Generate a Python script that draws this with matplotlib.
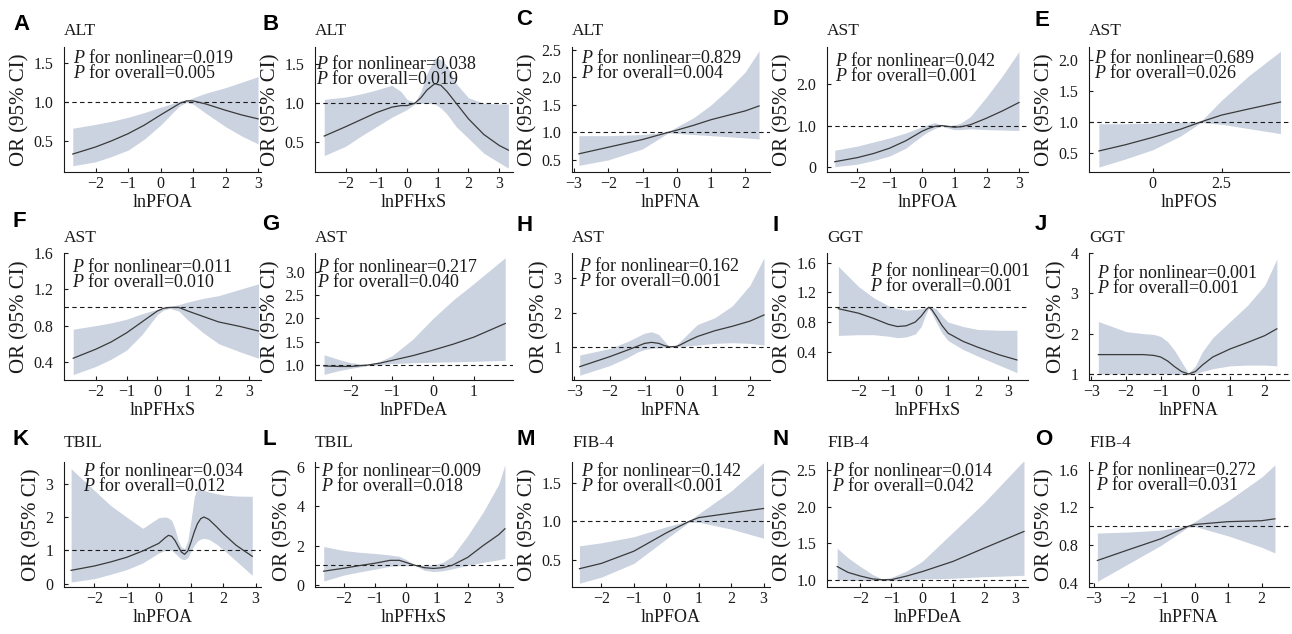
"""
Restricted cubic spline panels: OR (95% CI) of liver markers vs ln PFAS
"""

#%% Import packages
import matplotlib
matplotlib.use('Agg')
import matplotlib.pyplot as plt

#%% Data: x, OR, lower and upper 95% CI per panel
a_x  = [-2.7, -2.0, -1.5, -1.0, -0.5, 0.0, 0.4, 0.6, 0.8, 1.0, 1.4, 2.0, 2.5, 3.0]
a_or = [0.33, 0.42, 0.50, 0.59, 0.70, 0.83, 0.93, 0.98, 1.01, 1.01, 0.97, 0.89, 0.83, 0.78]
a_lo = [0.18, 0.23, 0.30, 0.38, 0.52, 0.70, 0.87, 0.95, 0.99, 0.97, 0.85, 0.68, 0.56, 0.46]
a_hi = [0.66, 0.71, 0.75, 0.80, 0.86, 0.93, 0.98, 1.01, 1.02, 1.05, 1.11, 1.18, 1.25, 1.32]

b_x  = [-2.7, -2.0, -1.5, -1.0, -0.5, -0.2, 0.0, 0.25, 0.45, 0.65, 0.9, 1.1, 1.3, 1.6, 2.0, 2.5, 3.0, 3.3]
b_or = [0.58, 0.70, 0.79, 0.88, 0.95, 0.97, 0.97, 1.00, 1.07, 1.17, 1.25, 1.23, 1.15, 1.00, 0.80, 0.60, 0.46, 0.40]
b_lo = [0.33, 0.45, 0.58, 0.70, 0.82, 0.88, 0.92, 0.99, 1.00, 1.00, 0.99, 0.94, 0.86, 0.70, 0.55, 0.36, 0.24, 0.17]
b_hi = [1.05, 1.08, 1.12, 1.17, 1.23, 1.15, 1.05, 1.01, 1.15, 1.38, 1.58, 1.56, 1.48, 1.25, 1.07, 1.00, 0.99, 0.99]

c_x  = [-2.86, -2.0, -1.0, -0.25, 0.0, 0.5, 1.0, 1.5, 2.0, 2.4]
c_or = [0.61, 0.73, 0.87, 1.00, 1.04, 1.13, 1.23, 1.31, 1.39, 1.48]
c_lo = [0.40, 0.50, 0.70, 0.99, 0.98, 0.96, 0.94, 0.92, 0.90, 0.88]
c_hi = [0.94, 0.94, 0.96, 1.01, 1.10, 1.27, 1.50, 1.78, 2.10, 2.48]

d_x  = [-2.7, -2.0, -1.5, -1.0, -0.5, 0.0, 0.2, 0.4, 0.6, 0.8, 1.0, 1.2, 1.5, 2.0, 2.5, 3.0]
d_or = [0.12, 0.22, 0.32, 0.45, 0.63, 0.86, 0.93, 0.98, 1.00, 0.98, 0.96, 0.97, 1.02, 1.18, 1.36, 1.56]
d_lo = [0.00, 0.06, 0.15, 0.26, 0.45, 0.75, 0.85, 0.93, 0.99, 0.94, 0.90, 0.90, 0.92, 0.90, 0.89, 0.88]
d_hi = [0.40, 0.50, 0.60, 0.70, 0.82, 0.97, 1.03, 1.07, 1.01, 1.00, 1.01, 1.06, 1.22, 1.70, 2.22, 2.80]

e_x  = [-1.96, -1.0, 0.0, 1.0, 1.75, 2.5, 3.5, 4.64]
e_or = [0.53, 0.63, 0.75, 0.88, 1.00, 1.11, 1.21, 1.32]
e_lo = [0.27, 0.40, 0.55, 0.77, 0.99, 0.96, 0.89, 0.81]
e_hi = [0.97, 0.97, 0.98, 0.99, 1.01, 1.35, 1.75, 2.14]

f_x  = [-2.74, -2.0, -1.5, -1.0, -0.5, 0.0, 0.2, 0.4, 0.7, 1.0, 1.5, 2.0, 2.7, 3.3]
f_or = [0.44, 0.54, 0.62, 0.72, 0.84, 0.96, 0.99, 1.00, 1.00, 0.96, 0.90, 0.84, 0.79, 0.74]
f_lo = [0.26, 0.35, 0.43, 0.53, 0.70, 0.92, 0.97, 0.99, 0.96, 0.86, 0.72, 0.60, 0.51, 0.44]
f_hi = [0.76, 0.80, 0.83, 0.87, 0.93, 0.98, 0.99, 1.01, 1.03, 1.06, 1.10, 1.13, 1.20, 1.26]

g_x  = [-2.66, -2.3, -2.0, -1.6, -1.3, -1.0, -0.5, 0.0, 0.5, 1.0, 1.76]
g_or = [0.98, 0.97, 0.97, 1.00, 1.04, 1.10, 1.20, 1.32, 1.45, 1.60, 1.89]
g_lo = [0.80, 0.88, 0.93, 0.99, 1.01, 1.03, 1.05, 1.06, 1.07, 1.08, 1.10]
g_hi = [1.22, 1.12, 1.05, 1.01, 1.08, 1.20, 1.55, 2.00, 2.40, 2.75, 3.30]

h_x  = [-2.85, -2.0, -1.5, -1.2, -1.0, -0.8, -0.6, -0.45, -0.3, -0.1, 0.0, 0.25, 0.5, 1.0, 1.5, 2.0, 2.4]
h_or = [0.42, 0.71, 0.90, 1.02, 1.10, 1.13, 1.10, 1.04, 1.00, 1.01, 1.05, 1.18, 1.30, 1.47, 1.60, 1.75, 1.93]
h_lo = [0.17, 0.45, 0.68, 0.85, 0.92, 0.95, 0.97, 0.98, 1.00, 1.00, 1.00, 1.03, 1.05, 1.10, 1.12, 1.10, 1.05]
h_hi = [0.76, 0.95, 1.15, 1.30, 1.40, 1.44, 1.36, 1.18, 1.00, 1.05, 1.15, 1.40, 1.65, 1.85, 2.20, 2.80, 3.60]

i_x  = [-2.67, -2.0, -1.5, -1.0, -0.7, -0.4, -0.1, 0.1, 0.25, 0.35, 0.45, 0.6, 0.8, 1.0, 1.5, 2.0, 2.7, 3.3]
i_or = [0.98, 0.92, 0.85, 0.77, 0.74, 0.75, 0.80, 0.88, 0.96, 1.00, 0.97, 0.88, 0.75, 0.65, 0.54, 0.46, 0.36, 0.29]
i_lo = [0.62, 0.63, 0.63, 0.61, 0.59, 0.60, 0.64, 0.74, 0.90, 0.99, 0.92, 0.80, 0.65, 0.55, 0.43, 0.34, 0.22, 0.12]
i_hi = [1.55, 1.28, 1.13, 1.02, 0.98, 0.96, 0.97, 0.98, 1.00, 1.01, 1.00, 0.98, 0.88, 0.80, 0.74, 0.70, 0.69, 0.69]

j_x  = [-2.8, -2.0, -1.5, -1.2, -1.0, -0.8, -0.6, -0.4, -0.2, 0.0, 0.2, 0.5, 1.0, 1.5, 2.0, 2.35]
j_or = [1.48, 1.48, 1.48, 1.46, 1.42, 1.32, 1.18, 1.06, 1.00, 1.06, 1.22, 1.42, 1.62, 1.78, 1.95, 2.12]
j_lo = [1.00, 1.00, 1.00, 1.00, 1.00, 1.00, 0.99, 0.99, 0.98, 1.00, 1.06, 1.13, 1.20, 1.22, 1.22, 1.20]
j_hi = [2.30, 2.05, 2.00, 1.98, 1.93, 1.80, 1.58, 1.30, 1.02, 1.20, 1.55, 1.90, 2.30, 2.70, 3.20, 3.85]

k_x  = [-2.72, -2.0, -1.5, -1.0, -0.5, 0.0, 0.2, 0.3, 0.4, 0.5, 0.6, 0.7, 0.8, 0.9, 1.0, 1.1,
        1.2, 1.3, 1.4, 1.55, 1.8, 2.0, 2.4, 2.9]
k_or = [0.40, 0.53, 0.65, 0.79, 0.98, 1.21, 1.38, 1.45, 1.42, 1.30, 1.12, 0.95, 0.88, 0.98, 1.25, 1.55,
        1.80, 1.95, 2.00, 1.93, 1.70, 1.50, 1.15, 0.82]
k_lo = [0.05, 0.15, 0.28, 0.42, 0.62, 0.92, 1.00, 1.02, 1.00, 0.92, 0.82, 0.74, 0.72, 0.78, 0.98, 1.15,
        1.28, 1.34, 1.36, 1.33, 1.18, 1.02, 0.68, 0.25]
k_hi = [3.45, 2.80, 2.35, 2.00, 1.66, 1.98, 2.00, 1.97, 1.90, 1.65, 1.30, 1.10, 1.05, 1.30, 1.90, 2.60,
        2.90, 2.85, 2.80, 2.75, 2.70, 2.66, 2.63, 2.62]

l_x  = [-2.64, -2.0, -1.5, -1.0, -0.5, -0.2, 0.0, 0.3, 0.6, 0.9, 1.2, 1.5, 2.0, 2.5, 3.0, 3.2]
l_or = [0.70, 0.85, 0.98, 1.10, 1.25, 1.25, 1.15, 1.00, 0.88, 0.84, 0.88, 1.00, 1.40, 2.00, 2.55, 2.85]
l_lo = [0.20, 0.50, 0.66, 0.80, 0.95, 0.98, 0.97, 0.99, 0.75, 0.68, 0.72, 0.82, 1.00, 1.15, 1.28, 1.35]
l_hi = [1.95, 1.75, 1.66, 1.60, 1.52, 1.45, 1.30, 1.01, 1.00, 1.02, 1.15, 1.45, 2.50, 3.70, 5.10, 6.10]

m_x  = [-2.68, -2.0, -1.0, 0.0, 0.7, 1.0, 2.0, 3.0]
m_or = [0.38, 0.45, 0.61, 0.85, 1.00, 1.05, 1.11, 1.17]
m_lo = [0.19, 0.27, 0.45, 0.77, 0.99, 0.99, 0.90, 0.78]
m_hi = [0.68, 0.72, 0.80, 0.93, 1.01, 1.10, 1.40, 1.77]

n_x  = [-2.75, -2.4, -2.0, -1.6, -1.3, -1.0, -0.5, 0.0, 1.0, 2.0, 3.3]
n_or = [1.18, 1.10, 1.05, 1.01, 1.00, 1.00, 1.05, 1.11, 1.25, 1.43, 1.66]
n_lo = [1.00, 0.99, 0.99, 0.99, 0.99, 0.99, 1.00, 1.01, 1.02, 1.04, 1.06]
n_hi = [1.43, 1.30, 1.18, 1.07, 1.01, 1.03, 1.12, 1.25, 1.65, 2.05, 2.63]

o_x  = [-2.9, -2.0, -1.0, -0.2, 0.0, 1.0, 2.0, 2.4]
o_or = [0.64, 0.75, 0.87, 1.00, 1.02, 1.05, 1.06, 1.08]
o_lo = [0.42, 0.60, 0.80, 0.99, 1.00, 0.90, 0.78, 0.72]
o_hi = [0.93, 0.94, 0.96, 1.01, 1.05, 1.27, 1.52, 1.65]

# Panel texts
letters = list('ABCDEFGHIJKLMNO')
outcomes = ['ALT', 'ALT', 'ALT', 'AST', 'AST',
            'AST', 'AST', 'AST', 'GGT', 'GGT',
            'TBIL', 'TBIL', 'FIB-4', 'FIB-4', 'FIB-4']
exposures = ['lnPFOA', 'lnPFHxS', 'lnPFNA', 'lnPFOA', 'lnPFOS',
             'lnPFHxS', 'lnPFDeA', 'lnPFNA', 'lnPFHxS', 'lnPFNA',
             'lnPFOA', 'lnPFHxS', 'lnPFOA', 'lnPFDeA', 'lnPFNA']
p_nonlinear = ['=0.019', '=0.038', '=0.829', '=0.042', '=0.689',
               '=0.011', '=0.217', '=0.162', '=0.001', '=0.001',
               '=0.034', '=0.009', '=0.142', '=0.014', '=0.272']
p_overall = ['=0.005', '=0.019', '=0.004', '=0.001', '=0.026',
             '=0.010', '=0.040', '=0.001', '=0.001', '=0.001',
             '=0.012', '=0.018', '<0.001', '=0.042', '=0.031']

# Axis ticks
xticks = [[-2, -1, 0, 1, 2, 3], [-2, -1, 0, 1, 2, 3], [-3, -2, -1, 0, 1, 2], [-2, -1, 0, 1, 2, 3], [0, 2.5],
          [-2, -1, 0, 1, 2, 3], [-2, -1, 0, 1], [-3, -2, -1, 0, 1, 2], [-2, -1, 0, 1, 2, 3], [-3, -2, -1, 0, 1, 2],
          [-2, -1, 0, 1, 2, 3], [-2, -1, 0, 1, 2, 3], [-2, -1, 0, 1, 2, 3], [-2, -1, 0, 1, 2, 3], [-3, -2, -1, 0, 1, 2]]
xticklabels = [None, None, None, None, ['0', '2.5'],
               None, None, None, None, None,
               None, None, None, None, None]
yticks = [[0.5, 1.0, 1.5], [0.5, 1.0, 1.5], [0.5, 1.0, 1.5, 2.0, 2.5], [0, 1.0, 2.0], [0.5, 1.0, 1.5, 2.0],
          [0.4, 0.8, 1.2, 1.6], [1.0, 1.5, 2.0, 2.5, 3.0], [1, 2, 3], [0.4, 0.8, 1.2, 1.6], [1, 2, 3, 4],
          [0, 1, 2, 3], [0, 2, 4, 6], [0.5, 1.0, 1.5], [1.0, 1.5, 2.0, 2.5], [0.4, 0.8, 1.2, 1.6]]
yticklabels = [['0.5', '1.0', '1.5'], ['0.5', '1.0', '1.5'], ['0.5', '1.0', '1.5', '2.0', '2.5'],
               ['0', '1.0', '2.0'], ['0.5', '1.0', '1.5', '2.0'],
               ['0.4', '0.8', '1.2', '1.6'], ['1.0', '1.5', '2.0', '2.5', '3.0'], ['1', '2', '3'],
               ['0.4', '0.8', '1.2', '1.6'], ['1', '2', '3', '4'],
               ['0', '1', '2', '3'], ['0', '2', '4', '6'], ['0.5', '1.0', '1.5'],
               ['1.0', '1.5', '2.0', '2.5'], ['0.4', '0.8', '1.2', '1.6']]
xlims = [(-2.97, 3.09), (-3.0, 3.45), (-3.06, 2.72), (-2.94, 3.28), (-2.32, 4.95),
         (-3.04, 3.38), (-2.88, 1.95), (-3.07, 2.57), (-3.05, 3.67), (-3.07, 2.70),
         (-2.94, 3.17), (-2.92, 3.46), (-2.91, 3.20), (-3.08, 3.43), (-3.15, 2.82)]
ylims = [(0.10, 1.70), (0.12, 1.72), (0.28, 2.55), (-0.13, 2.91), (0.19, 2.21),
         (0.20, 1.60), (0.68, 3.40), (0.03, 3.74), (0.02, 1.73), (0.85, 4.00),
         (-0.10, 3.65), (-0.10, 6.23), (0.14, 1.78), (0.90, 2.61), (0.36, 1.68)]

#%% Layout (pixels of the 1292 x 634 figure)
W, H = 1292, 634
col_left = [64, 315, 572, 827, 1089]
col_width = [197, 198, 198, 201, 200]
row_top = [47, 253, 462]
row_bottom = [172, 380, 587]
letter_x = [13, 262, 516, 772, 1035]
letter_base = [[30, 30, 25, 25, 26], [227, 230, 231, 231, 230], [445, 445, 445, 445, 445]]
title_base = [35, 242, 447]
note_dx = [9, 1, 9, 8, 5, 8, 2, 7, 43, 8, 19, 6, 9, 5, 7]
note_top = [50, 56, 50, 53, 50, 259, 259, 258, 263, 265, 463, 463, 463, 463, 462]

BAND = '#cbd3e0'
LINE = '#3a3a3a'
INK = '#1a1a1a'

plt.rcParams['font.family'] = 'Liberation Serif'
plt.rcParams['mathtext.fontset'] = 'custom'
plt.rcParams['mathtext.rm'] = 'Liberation Serif'
plt.rcParams['mathtext.it'] = 'Liberation Serif:italic'


def fx(px):
    return px / W


def fy(py):
    return 1 - py / H


def plot_rcs(fig, k, x, orr, lo, hi):
    """ One spline panel, k is the panel index (0..14) """
    row, col = divmod(k, 5)
    left, width = col_left[col], col_width[col]
    top, bottom = row_top[row], row_bottom[row]
    ax = fig.add_axes([fx(left), fy(bottom), width / W, (bottom - top) / H])

    # Confidence band, reference line and OR curve
    ax.fill_between(x, lo, hi, color=BAND, lw=0, zorder=1)
    ax.axhline(1.0, color=INK, lw=0.8, ls=(0, (4, 3)), zorder=2)
    ax.plot(x, orr, color=LINE, lw=0.9, zorder=3)

    # Axes
    ax.set_xlim(*xlims[k]); ax.set_ylim(*ylims[k])
    ax.set_xticks(xticks[k])
    if xticklabels[k] is not None:
        ax.set_xticklabels(xticklabels[k])
    ax.set_yticks(yticks[k]); ax.set_yticklabels(yticklabels[k])
    for side in ['top', 'right']:
        ax.spines[side].set_visible(False)
    for side in ['left', 'bottom']:
        ax.spines[side].set_linewidth(0.8); ax.spines[side].set_color(INK)
    ax.tick_params(direction='in', length=3, width=0.8, colors=INK, labelsize=11.5)
    ax.tick_params(axis='x', pad=3)
    ax.tick_params(axis='y', pad=7.5)
    ax.set_xlabel(exposures[k], fontsize=13, labelpad=1, color=INK)
    ax.set_ylabel('OR (95% CI)', fontsize=15, labelpad=3, color=INK)

    # Letter, outcome and P values (two lines in one text)
    fig.text(fx(letter_x[col]), fy(letter_base[row][col]), letters[k], family='Liberation Sans',
             weight='bold', fontsize=16, va='baseline', color='black')
    fig.text(fx(left), fy(title_base[row]), outcomes[k], fontsize=12.5, va='baseline', color=INK)
    note = '$P$ for nonlinear' + p_nonlinear[k] + '\n' + '$P$ for overall' + p_overall[k]
    fig.text(fx(left + note_dx[k]), fy(note_top[k] - 1), note,
             fontsize=13, va='top', ha='left', linespacing=0.82, color=INK)
    return ax


if __name__ == '__main__':
    panels = [(a_x, a_or, a_lo, a_hi), (b_x, b_or, b_lo, b_hi), (c_x, c_or, c_lo, c_hi),
              (d_x, d_or, d_lo, d_hi), (e_x, e_or, e_lo, e_hi), (f_x, f_or, f_lo, f_hi),
              (g_x, g_or, g_lo, g_hi), (h_x, h_or, h_lo, h_hi), (i_x, i_or, i_lo, i_hi),
              (j_x, j_or, j_lo, j_hi), (k_x, k_or, k_lo, k_hi), (l_x, l_or, l_lo, l_hi),
              (m_x, m_or, m_lo, m_hi), (n_x, n_or, n_lo, n_hi), (o_x, o_or, o_lo, o_hi)]

    fig = plt.figure(figsize=(W / 100, H / 100), dpi=100)
    for k, (x, orr, lo, hi) in enumerate(panels):
        plot_rcs(fig, k, x, orr, lo, hi)

    # Save picture
    fig.savefig('out.png', dpi=100)
